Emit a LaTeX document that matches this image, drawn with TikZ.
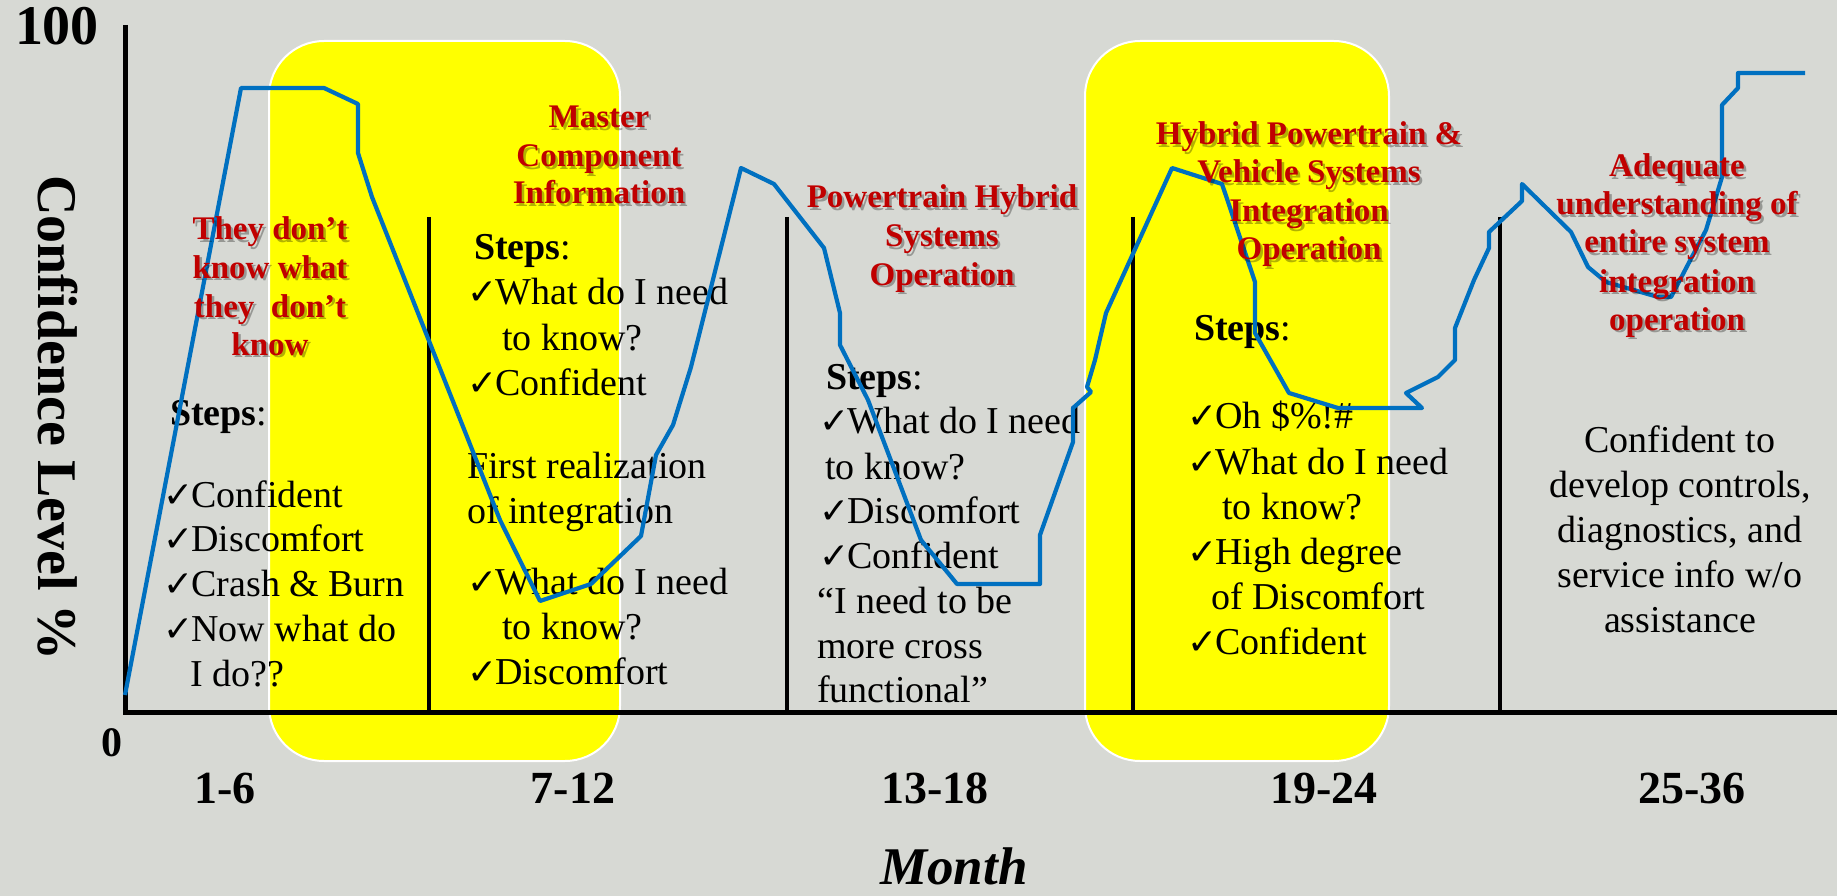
\documentclass[tikz,border=0pt]{standalone}
\usepackage{fontspec}
\setmainfont{Liberation Serif}
\newfontfamily\symfont{DejaVu Sans}

\definecolor{bg}{RGB}{215,217,212}
\definecolor{hlyellow}{RGB}{255,255,0}
\definecolor{titlered}{RGB}{192,0,0}
\definecolor{curveblue}{RGB}{0,112,192}

% check mark used in the step lists
\newcommand\chk{{\fontsize{36}{36}\symfont ✓}\kern-2pt}

\tikzset{
  body/.style={font=\fontsize{38}{45}\selectfont, inner sep=0pt, anchor=base west},
  bodyc/.style={body, anchor=base},
  rtitle/.style={font=\fontsize{33}{38}\selectfont\bfseries, text=titlered, inner sep=0pt, anchor=base},
  rshadow/.style={rtitle, text=black, text opacity=0.3},
  hlbox/.style={fill=hlyellow, draw=white, line width=2pt, rounded corners=55pt},
  axisline/.style={line width=5pt, black},
  divider/.style={line width=4.5pt, black},
  curve/.style={line width=4.2pt, curveblue, line join=round},
  axlabel/.style={font=\fontsize{46}{50}\selectfont\bfseries, inner sep=0pt, anchor=base},
}

% one line of a red heading, with its soft drop shadow
\newcommand\redline[4]{%
  \node[rshadow] (#1s) at (#2+2.5,#3+2.5) {#4};
  \node[rtitle] (#1) at (#2,#3) {#4};}
% one line of black body text
\newcommand\bline[4]{\node[body] (#1) at (#2,#3) {#4};}

\begin{document}
\begin{tikzpicture}[x=1pt,y=-1pt]
\useasboundingbox (0,0) rectangle (1837,896);
\fill[bg] (0,0) rectangle (1837,896);

% highlighted periods
\draw[hlbox] (269,41) rectangle (620,761);
\draw[hlbox] (1085,41) rectangle (1389,761);

% axes and period dividers
\draw[axisline] (125,25) -- (125,712) -- (1837,712);
\draw[divider] (429,217) -- (429,712);
\draw[divider] (787,217) -- (787,712);
\draw[divider] (1133,217) -- (1133,712);
\draw[divider] (1500,217) -- (1500,712);

% months 1-6
\bline{c1s}{170}{425}{\textbf{Steps}:}
\bline{c1a}{163}{507}{\chk Confident}
\bline{c1b}{163}{551}{\chk Discomfort}
\bline{c1c}{163}{596}{\chk Crash \& Burn}
\bline{c1d}{163}{641}{\chk Now what do}
\bline{c1e}{190}{686}{I do??}

% months 7-12
\bline{c2s}{474}{260}{\textbf{Steps}:}
\bline{c2a}{467}{305}{\chk What do I need}
\bline{c2b}{502}{350}{to know?}
\bline{c2c}{467}{395}{\chk Confident}
\bline{c2d}{467}{478}{First realization}
\bline{c2e}{467}{523}{of integration}
\bline{c2f}{467}{594}{\chk What do I need}
\bline{c2g}{502}{639}{to know?}
\bline{c2h}{467}{684}{\chk Discomfort}

% months 13-18
\bline{c3s}{826}{389}{\textbf{Steps}:}
\bline{c3a}{819}{433}{\chk What do I need}
\bline{c3b}{825}{479}{to know?}
\bline{c3c}{819}{523}{\chk Discomfort}
\bline{c3d}{819}{568}{\chk Confident}
\bline{c3e}{817}{613}{“I need to be}
\bline{c3f}{817}{658}{more cross}
\bline{c3g}{817}{702}{functional”}

% months 19-24
\bline{c4s}{1194}{340}{\textbf{Steps}:}
\bline{c4a}{1187}{428}{\chk Oh \$\%!\#}
\bline{c4b}{1187}{474}{\chk What do I need}
\bline{c4c}{1222}{519}{to know?}
\bline{c4d}{1187}{564}{\chk High degree}
\bline{c4e}{1211}{609}{of Discomfort}
\bline{c4f}{1187}{654}{\chk Confident}

% months 25-36
\node[bodyc] (c5a) at (1680,452) {Confident to};
\node[bodyc] (c5b) at (1680,497) {develop controls,};
\node[bodyc] (c5c) at (1680,542) {diagnostics, and};
\node[bodyc] (c5d) at (1680,587) {service info w/o};
\node[bodyc] (c5e) at (1680,632) {assistance};

% confidence curve
\draw[curve] (125,695) -- (241,88) -- (324,88) -- (358,104) -- (358,153)
  -- (372,197) -- (500,520) -- (540,601) -- (591,584) -- (641,536)
  -- (656,455) -- (673,425) -- (691,367) -- (741,168) -- (774,184)
  -- (824,248) -- (840,313) -- (840,345) -- (868,400) -- (921,540)
  -- (957,584) -- (1040,584) -- (1040,535) -- (1073,442) -- (1073,408)
  -- (1091,392) -- (1087,387) -- (1095,360) -- (1106,313) -- (1172,168)
  -- (1222,184) -- (1255,282) -- (1255,333) -- (1289,393) -- (1338,408)
  -- (1422,408) -- (1406,393) -- (1438,377) -- (1455,360) -- (1455,328)
  -- (1474,280) -- (1489,248) -- (1489,232) -- (1522,201) -- (1522,184)
  -- (1571,232) -- (1588,267) -- (1606,282) -- (1658,297) -- (1671,297)
  -- (1706,230) -- (1722,177) -- (1722,105) -- (1738,88) -- (1738,73)
  -- (1805,73);

% period headings
\redline{h1a}{270}{240}{They don’t}
\redline{h1b}{270}{278}{know what}
\redline{h1c}{270}{317}{they~ don’t}
\redline{h1d}{270}{355}{know}

\redline{h2a}{599}{128}{Master}
\redline{h2b}{599}{167}{Component}
\redline{h2c}{599}{204}{Information}

\redline{h3a}{942}{208}{Powertrain Hybrid}
\redline{h3b}{942}{247}{Systems}
\redline{h3c}{942}{285}{Operation}

\redline{h4a}{1309}{145}{Hybrid Powertrain \&}
\redline{h4b}{1309}{183}{Vehicle Systems}
\redline{h4c}{1309}{222}{Integration}
\redline{h4d}{1309}{260}{Operation}

\redline{h5a}{1677}{177}{Adequate}
\redline{h5b}{1677}{215}{understanding of}
\redline{h5c}{1677}{253}{entire system}
\redline{h5d}{1677}{292}{integration}
\redline{h5e}{1677}{330}{operation}

% axis labels
\node[axlabel, font=\fontsize{56}{60}\selectfont\bfseries] (ymax) at (57,45) {100};
\node[axlabel, font=\fontsize{42}{46}\selectfont\bfseries] (ymin) at (112,756) {0};
\node[axlabel, font=\fontsize{56}{60}\selectfont\bfseries, rotate=-90] (ytitle) at (38,418) {Confidence Level \%};
\node[axlabel] (m1) at (225,803) {1-6};
\node[axlabel] (m2) at (573,803) {7-12};
\node[axlabel] (m3) at (935,803) {13-18};
\node[axlabel] (m4) at (1324,803) {19-24};
\node[axlabel] (m5) at (1692,803) {25-36};
\node[axlabel, font=\fontsize{53}{58}\selectfont\bfseries\itshape] (xtitle) at (954,884) {Month};
\end{tikzpicture}
\end{document}
